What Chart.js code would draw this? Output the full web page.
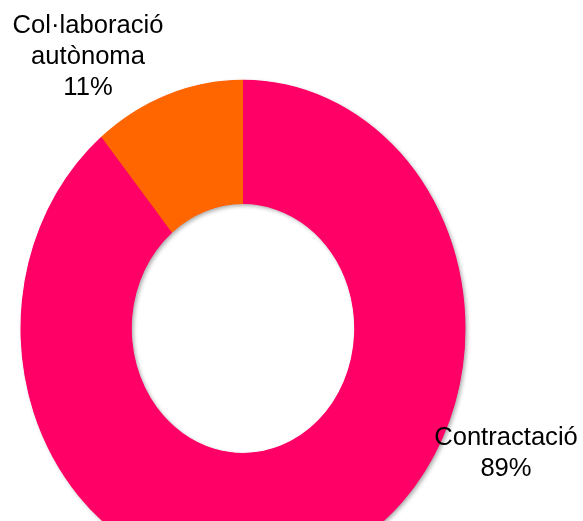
<!DOCTYPE html>
<html>
<head>
<meta charset="utf-8">
<script src="https://cdn.jsdelivr.net/npm/chart.js@4/dist/chart.umd.min.js"></script>
<style>
  html, body { margin: 0; padding: 0; background: #fff; }
  #wrap { width: 583px; height: 521px; overflow: hidden; }
</style>
</head>
<body>
<div id="wrap"><canvas id="donut" width="583" height="521"></canvas></div>
<script>
// Chart data
const categories = ['Contractació', 'Col·laboració autònoma'];
const shares = [89, 11];
const sliceColors = ['#FF0066', '#FF6600'];

// Where the labels sit (centre x, first baseline y)
const labelSpots = [
    { x: 506, y: 445 },
    { x: 88, y: 33 }
];

// Ring is a little taller than wide in the picture
const ringCenter = { x: 243, y: 328.5 };
const stretchY = 1.118;

// Stretch the ring vertically and move it in place, with a soft shadow behind it
const stretchPlugin = {
    id: 'stretch',
    beforeDatasetsDraw(chart) {
        const ctx = chart.ctx;
        const arc = chart.getDatasetMeta(0).data[0];
        ctx.save();
        ctx.translate(ringCenter.x, ringCenter.y);
        ctx.scale(1, stretchY);
        ctx.translate(-arc.x, -arc.y);

        // shadow ring under the slices
        ctx.save();
        ctx.shadowColor = 'rgba(0,0,0,0.35)';
        ctx.shadowBlur = 4;
        ctx.shadowOffsetX = 2;
        ctx.shadowOffsetY = 2;
        ctx.beginPath();
        ctx.arc(arc.x, arc.y, arc.outerRadius - 0.5, 0, Math.PI * 2);
        ctx.arc(arc.x, arc.y, arc.innerRadius + 0.5, 0, Math.PI * 2, true);
        ctx.fillStyle = sliceColors[0];
        ctx.fill();
        ctx.restore();
    },
    afterDatasetsDraw(chart) {
        chart.ctx.restore();
    }
};

// Category name + percent outside the ring
const labelPlugin = {
    id: 'sliceLabels',
    afterDraw(chart) {
        const ctx = chart.ctx;
        const total = shares.reduce((a, b) => a + b, 0);
        ctx.save();
        ctx.font = '25.6px "Liberation Sans", Arial, sans-serif';
        ctx.fillStyle = '#000';
        ctx.textAlign = 'center';
        ctx.textBaseline = 'alphabetic';
        categories.forEach((name, i) => {
            const lines = name.split(' ');
            lines.push(Math.round(shares[i] / total * 100) + '%');
            lines.forEach((line, k) => {
                ctx.fillText(line, labelSpots[i].x, labelSpots[i].y + k * 31);
            });
        });
        ctx.restore();
    }
};

const ctx = document.getElementById('donut').getContext('2d');
const donutChart = new Chart(ctx, {
    type: 'doughnut',
    data: {
        labels: categories,
        datasets: [{
            data: shares,
            backgroundColor: sliceColors,
            borderWidth: 0
        }]
    },
    options: {
        responsive: false,
        animation: false,
        cutout: '50%',
        layout: {
            padding: { left: 20, right: 118, top: 0, bottom: 76 }
        },
        plugins: {
            legend: { display: false },
            tooltip: { enabled: false }
        }
    },
    plugins: [stretchPlugin, labelPlugin]
});
</script>
</body>
</html>
